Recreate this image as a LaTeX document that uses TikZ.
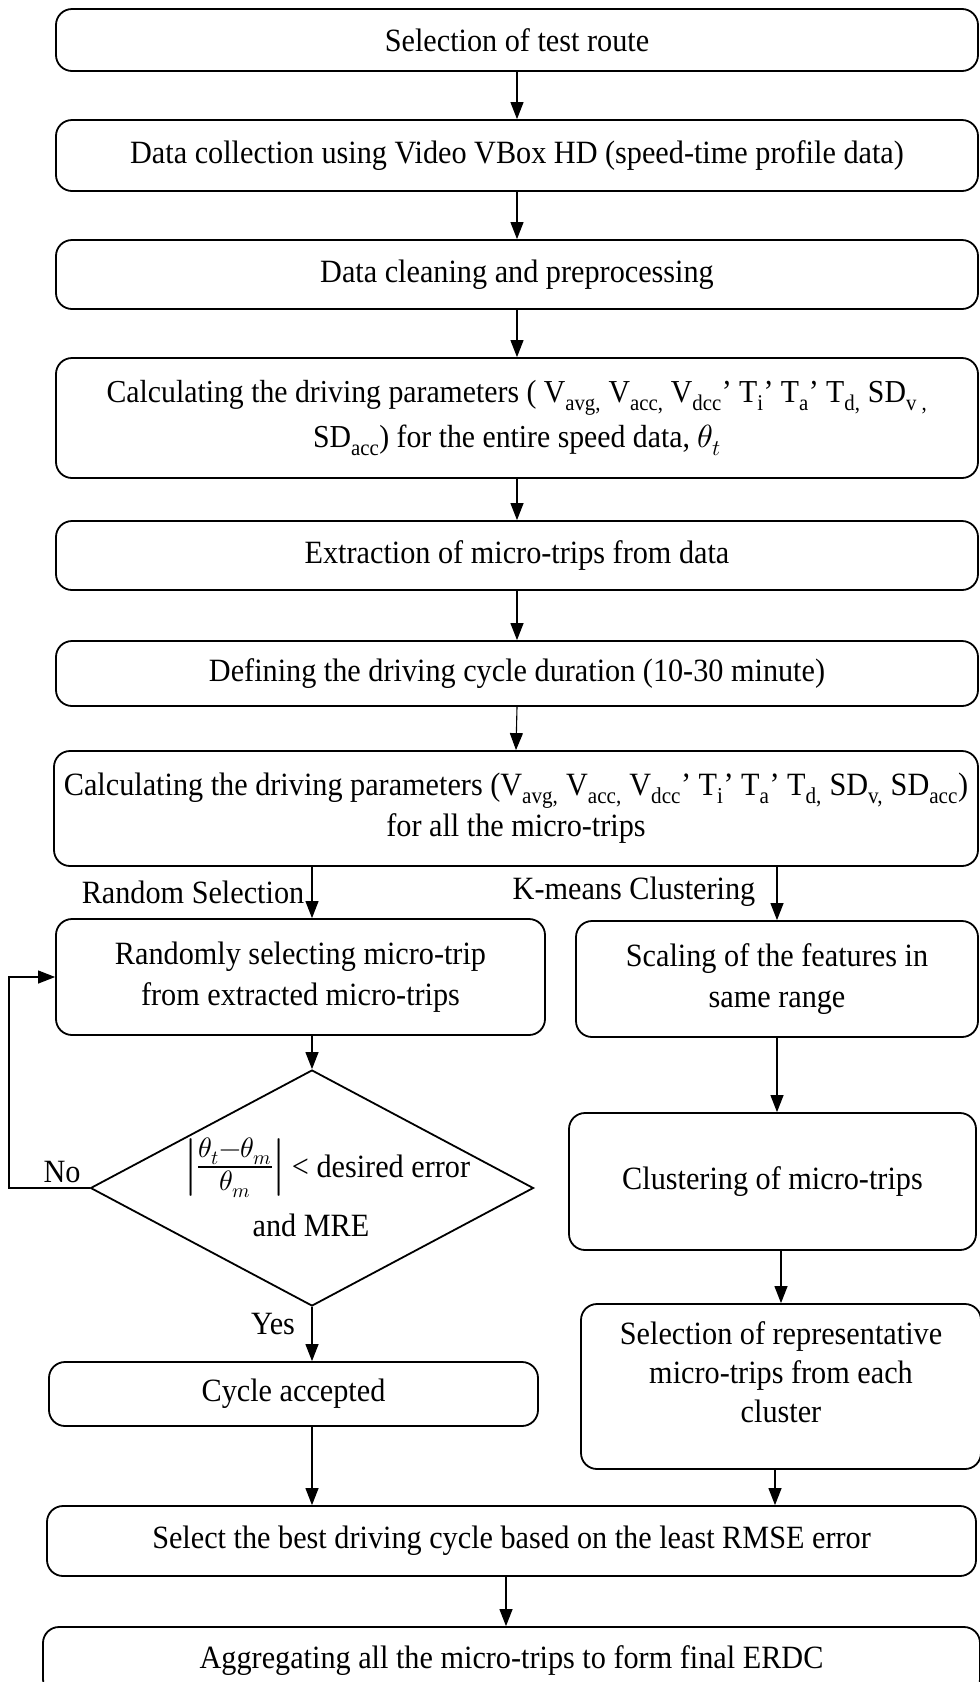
\documentclass[tikz,border=0pt]{standalone}
\usepackage{unicode-math}
\setmainfont{Liberation Serif}[FakeStretch=0.93]
\usetikzlibrary{shapes.geometric,arrows.meta}
\newcommand\fsz{\fontsize{32.5}{41}\selectfont}
\newcommand\mysub[1]{\textsubscript{#1}}
\begin{document}
\begin{tikzpicture}[x=1pt,y=-1pt,font=\fsz,
  box/.style={draw, line width=1.8pt, rounded corners=16pt, align=center, inner sep=0pt},
  arr/.style={-{Triangle[length=17pt,width=13pt]}, line width=1.1pt},
  lbl/.style={inner sep=0pt}]
\useasboundingbox (0,0) rectangle (980,1682);
\node[box, minimum width=922, minimum height=62] (b1) at (517,40) {Selection of test route};
\node[box, minimum width=922, minimum height=71] (b2) at (517,155.5) {Data collection using Video VBox HD (speed-time profile data)};
\node[box, minimum width=922, minimum height=69] (b3) at (517,274.5) {Data cleaning and preprocessing};
\node[box, minimum width=922, minimum height=120, font=\fontsize{32}{45}\selectfont] (b4) at (517,418) {Calculating the driving parameters ( V\mysub{avg,} V\mysub{acc,} V\mysub{dcc}’ T\mysub{i}’ T\mysub{a}’ T\mysub{d,} SD\mysub{v ,}\\ SD\mysub{acc}) for the entire speed data, $\theta_t$};
\node[box, minimum width=922, minimum height=69] (b5) at (517,555.5) {Extraction of micro-trips from data};
\node[box, minimum width=922, minimum height=65] (b6) at (517,673.5) {Defining the driving cycle duration (10-30 minute)};
\node[box, minimum width=924, minimum height=115] (b7) at (516,808.5) {Calculating the driving parameters (V\mysub{avg,} V\mysub{acc,} V\mysub{dcc}’ T\mysub{i}’ T\mysub{a}’ T\mysub{d,} SD\mysub{v,} SD\mysub{acc})\\ for all the micro-trips};
\node[box, minimum width=489, minimum height=116] (b8) at (300.5,977) {Randomly selecting micro-trip\\ from extracted micro-trips};
\node[box, minimum width=402, minimum height=116] (b9) at (777,979) {Scaling of the features in\\ same range};
\node[diamond, draw, line width=1.8pt, minimum width=443, minimum height=236, inner sep=0pt] (d) at (312,1188) {};
\node[lbl, anchor=base] (dt1) at (328,1177) {{\fontsize{40}{44}\selectfont$\left|\frac{\theta_t-\theta_m}{\theta_m}\right|$} < desired error};
\node[lbl, anchor=base] (dt2) at (311,1236) {and MRE};
\node[box, minimum width=489, minimum height=64] (b10) at (293.5,1394) {Cycle accepted};
\node[box, minimum width=407, minimum height=137] (b11) at (772.5,1181.5) {Clustering of micro-trips};
\node[box, minimum width=400, minimum height=165, font=\fontsize{32.5}{39}\selectfont] (b12) at (781,1386.5) {Selection of representative\\ micro-trips from each\\ cluster\\[-10pt]};
\node[box, minimum width=929, minimum height=70] (b13) at (511.5,1541) {Select the best driving cycle based on the least RMSE error};
\node[box, minimum width=937, minimum height=68] (b14) at (511.5,1661) {Aggregating all the micro-trips to form final ERDC};
\node[lbl] (rs) at (193,892) {Random Selection};
\node[lbl] (km) at (634,892) {K-means Clustering};
\node[lbl] (no) at (62,1172) {No};
\node[lbl] (yes) at (273,1324) {Yes};
\coordinate (nc) at (9,1188);
\draw[arr] (b1.south) -- (b2.north);
\draw[arr] (b2.south) -- (b3.north);
\draw[arr] (b3.south) -- (b4.north);
\draw[arr] (b4.south) -- (b5.north);
\draw[arr] (b5.south) -- (b6.north);
\draw[arr] (b6.south) -- (b7.north);
\draw[arr] (b7.south -| d.north) -- (b8.north -| d.north);
\draw[arr] (b7.south -| b9.north) -- (b9.north);
\draw[arr] (b8.south -| d.north) -- (d.north);
\draw[arr] (d.west) -- (nc) |- (b8.west);
\draw[arr] (d.south) -- (b10.north -| d.south);
\draw[arr] (b9.south) -- (b11.north -| b9.south);
\draw[arr] (b11.south -| b12.north) -- (b12.north);
\draw[arr] (b10.south -| d.south) -- (b13.north -| d.south);
\draw[arr] (b12.south -| 775,0) -- (b13.north -| 775,0);
\draw[arr] (b13.south -| 506,0) -- (b14.north -| 506,0);
\end{tikzpicture}
\end{document}
